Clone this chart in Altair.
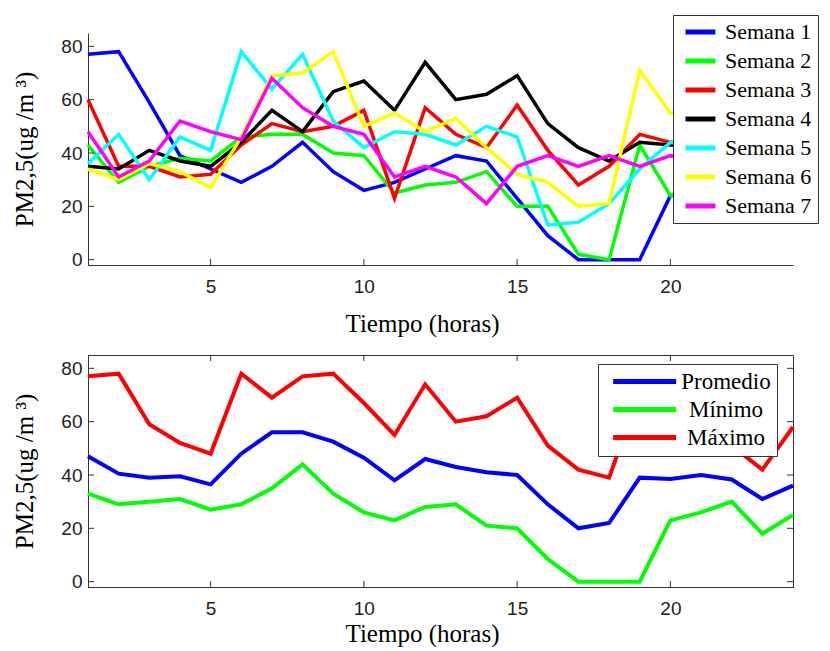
import altair as alt
import pandas as pd

horas = list(range(1, 25))

semanas = ["Semana 1", "Semana 2", "Semana 3", "Semana 4", "Semana 5", "Semana 6", "Semana 7"]
colores_semana = ["#0000ff", "#00ff00", "#ff0000", "#000000", "#00ffff", "#ffff00", "#ff00ff"]

semana1 = [77, 78, 59, 39, 34, 29, 35, 44, 33, 26, 29, 34, 39, 37, 23, 9, 0, 0, 0, 24, 26, 30, 18, 25]
semana2 = [43, 29, 35, 38, 37, 46, 47, 47, 40, 39, 25, 28, 29, 33, 20, 20, 2, 0, 43, 24, 30, 34, 25, 30]
semana3 = [60, 35, 35, 31, 32, 43, 51, 48, 50, 56, 23, 57, 47, 42, 58, 41, 28, 35, 47, 44, 44, 40, 35, 40]
semana4 = [35, 34, 41, 37, 35, 44, 56, 48, 63, 67, 56, 74, 60, 62, 69, 51, 42, 37, 44, 43, 43, 42, 42, 58]
semana5 = [36, 47, 30, 46, 41, 78, 64, 77, 52, 42, 48, 47, 43, 50, 46, 13, 14, 21, 34, 44, 42, 38, 30, 33]
semana6 = [34, 30, 36, 33, 27, 46, 69, 70, 78, 50, 55, 48, 53, 42, 32, 29, 20, 21, 71, 55, 58, 51, 38, 36]
semana7 = [48, 31, 37, 52, 48, 45, 68, 57, 50, 47, 31, 35, 31, 21, 35, 39, 35, 39, 35, 39, 37, 33, 29, 30]

estadisticos = ["Promedio", "Mínimo", "Máximo"]
colores_estad = ["#0000ff", "#00ff00", "#ff0000"]

promedio = [47, 40.5, 39, 39.5, 36.5, 48, 56, 56, 52.5, 46.5, 38, 46, 43, 41, 40, 29, 20, 22, 39, 38.5, 40, 38.3, 31, 36]
minimo = [33, 29, 30, 31, 27, 29, 35, 44, 33, 26, 23, 28, 29, 21, 20, 8.5, 0, 0, 0, 23, 26, 30, 18, 25]
maximo = [77, 78, 59, 52, 48, 78, 69, 77, 78, 67, 55, 74, 60, 62, 69, 51, 42, 39, 71, 55, 58, 51, 42, 58]

ticks_x = [5, 10, 15, 20]
ticks_y = [0, 20, 40, 60, 80]

W, H = 705, 232
SERIF = "Liberation Serif"
SANS = "Liberation Sans"
AXC = "#333333"
TOP_PATH = "M-1.2,0H6.8"   # horizontal legend line (length 4*sqrt(size))
BOT_PATH = "M-0.3,0H7.7"

# ---- data tables
rows = []
for name, vals in zip(semanas, [semana1, semana2, semana3, semana4, semana5, semana6, semana7]):
    for h, v in zip(horas, vals):
        rows.append({"hora": h, "pm": v, "serie": name})
df_top = pd.DataFrame(rows)

rows = []
for name, vals in zip(estadisticos, [promedio, minimo, maximo]):
    for h, v in zip(horas, vals):
        rows.append({"hora": h, "pm": v, "serie": name})
df_bot = pd.DataFrame(rows)

df_tx = pd.DataFrame({"hora": ticks_x})
df_ty = pd.DataFrame({"pm": ticks_y})

xscale = alt.Scale(domain=[1, 24], nice=False, zero=False)
yscale = alt.Scale(domain=[-2, 85], nice=False, zero=False)


def x_axis(ty):
    return alt.Axis(values=ticks_x, title="Tiempo (horas)", titleFont=SERIF, titleFontSize=25,
                    titleFontWeight="normal", titleColor="black", titleX=334, titleY=ty,
                    titleBaseline="alphabetic", titleAlign="center",
                    labelFont=SANS, labelFontSize=19, labelColor="#222222", labelPadding=12,
                    ticks=False, tickSize=0, grid=False, domainColor=AXC, domainWidth=1)


def y_axis():
    return alt.Axis(values=ticks_y, title="PM2,5(ug /m ³)", titleFont=SERIF, titleFontSize=25,
                    titleFontWeight="normal", titleColor="black", titleAngle=270,
                    titleX=-56, titleY=H / 2, titleBaseline="alphabetic", titleAlign="center",
                    labelFont=SANS, labelFontSize=19, labelColor="#222222", labelPadding=6,
                    ticks=False, tickSize=0, grid=False, domainColor=AXC, domainWidth=1)


def tick_layers(box, ty):
    layers = [
        alt.Chart(df_ty).mark_rule(color=AXC, strokeWidth=1).encode(
            y=alt.Y("pm:Q", scale=yscale, axis=y_axis()), x=alt.value(0), x2=alt.value(6)),
        alt.Chart(df_tx).mark_rule(color=AXC, strokeWidth=1).encode(
            x=alt.X("hora:Q", scale=xscale, axis=x_axis(ty)), y=alt.value(H), y2=alt.value(H - 6)),
    ]
    if box:
        layers += [
            alt.Chart(df_ty).mark_rule(color=AXC, strokeWidth=1).encode(
                y=alt.Y("pm:Q", scale=yscale, axis=y_axis()), x=alt.value(W - 6), x2=alt.value(W)),
            alt.Chart(df_tx).mark_rule(color=AXC, strokeWidth=1).encode(
                x=alt.X("hora:Q", scale=xscale, axis=x_axis(ty)), y=alt.value(0), y2=alt.value(6)),
        ]
    return layers


TOP_TY = 66
BOT_TY = 54

top_lines = alt.Chart(df_top).mark_line(strokeWidth=3.5, strokeJoin="miter").encode(
    x=alt.X("hora:Q", scale=xscale, axis=x_axis(TOP_TY)),
    y=alt.Y("pm:Q", scale=yscale, axis=y_axis()),
    color=alt.Color("serie:N", scale=alt.Scale(domain=semanas, range=colores_semana),
                    legend=alt.Legend(orient="none", legendX=585, legendY=-18, title=None,
                                      fillColor="white", strokeColor=AXC, padding=6,
                                      cornerRadius=0, symbolType=TOP_PATH, symbolSize=56,
                                      symbolStrokeWidth=5, labelFont=SERIF, labelFontSize=22,
                                      labelColor="black", labelOffset=24, rowPadding=7,
                                      labelLimit=0)),
    order=alt.Order("hora:Q"),
)

top = alt.layer(top_lines, *tick_layers(False, TOP_TY)).properties(
    width=W, height=H, view=alt.ViewBackground(stroke=None))

bot_lines = alt.Chart(df_bot).mark_line(strokeWidth=4, strokeJoin="miter").encode(
    x=alt.X("hora:Q", scale=xscale, axis=x_axis(BOT_TY)),
    y=alt.Y("pm:Q", scale=yscale, axis=y_axis()),
    color=alt.Color("serie:N", scale=alt.Scale(domain=estadisticos, range=colores_estad),
                    legend=alt.Legend(orient="none", legendX=510, legendY=9, title=None,
                                      fillColor="white", strokeColor=AXC, padding=6,
                                      cornerRadius=0, symbolType=BOT_PATH, symbolSize=248,
                                      symbolStrokeWidth=5, labelFont=SERIF, labelFontSize=23,
                                      labelColor="black", labelOffset=99, labelAlign="center",
                                      rowPadding=4, labelLimit=0)),
    order=alt.Order("hora:Q"),
)

bottom = alt.layer(bot_lines, *tick_layers(True, BOT_TY)).properties(
    width=W, height=H, view=alt.ViewBackground(stroke=AXC, strokeWidth=1))

chart = alt.vconcat(top, bottom, spacing=90, bounds="flush").resolve_scale(
    color="independent"
).properties(
    padding={"left": 3, "top": 6, "right": 0, "bottom": 0},
    background="white",
)

chart.save("out.html", embed_options={"renderer": "svg", "actions": False})
